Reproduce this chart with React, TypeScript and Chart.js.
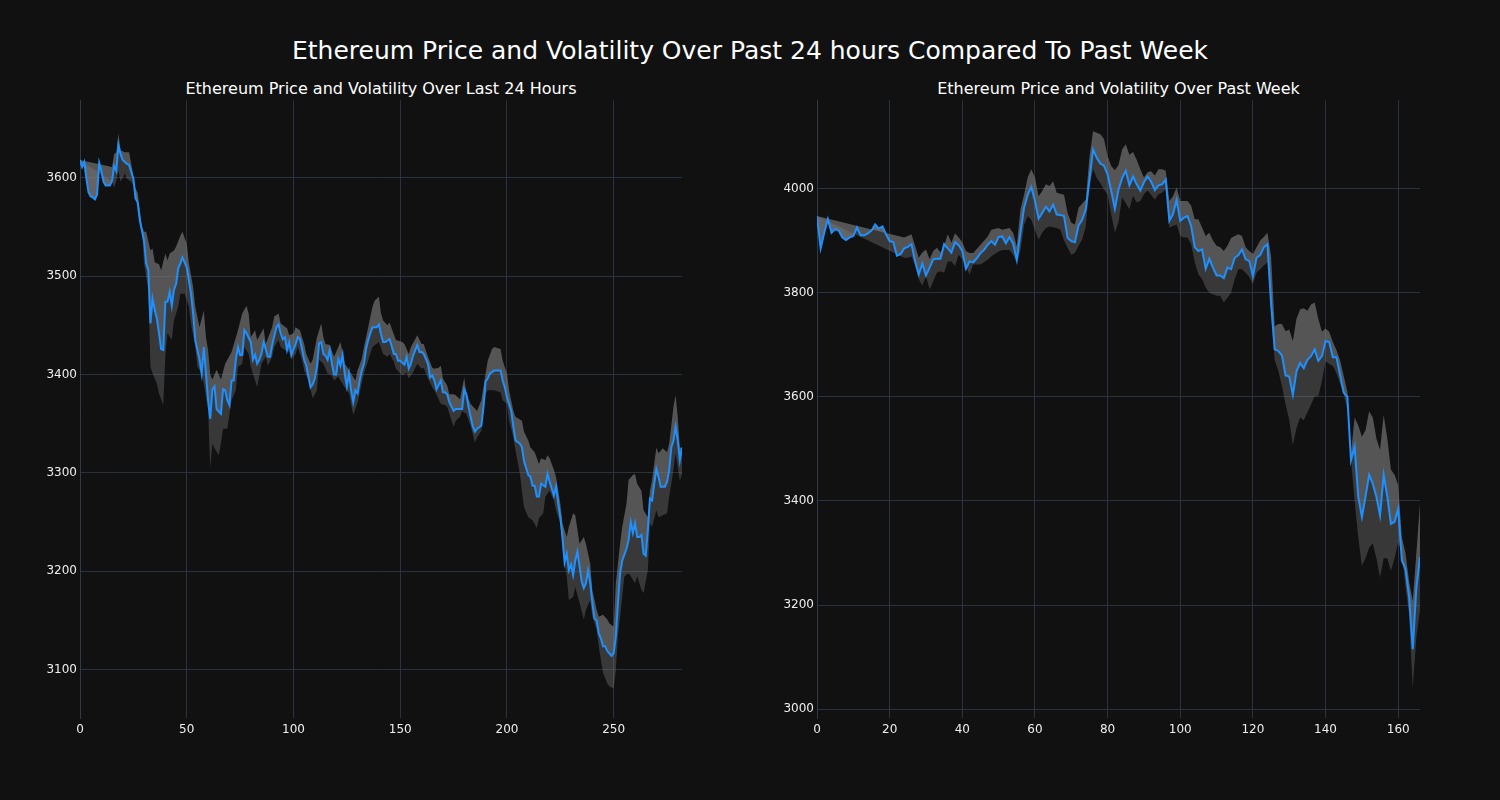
import React, { useEffect, useRef } from "react";
import Chart from "chart.js/auto";

// ---------- Left chart: last 24 hours ----------
const leftPriceX = [0,1,2,3,4,5,6,7,8,9,10,11,12,14,15,16,17,18,19,20,22,23,24,25,26,27,28,30,31,32,33,34,35,36,37,38,39,40,41,42,43,44,45,46,47,48,50,51,52,53,54,55,56,57,58,59,60,61,62,63,64,66,67,68,69,70,71,72,73,74,75,76,77,78,80,81,82,83,84,85,86,87,88,89,90,92,93,94,95,96,97,98,99,101,102,103,104,105,106,107,108,109,110,111,112,113,114,115,116,117,118,119,120,121,122,123,124,125,126,127,128,129,130,131,132,133,134,135,136,137,139,140,141,142,143,145,146,147,148,149,150,152,153,154,155,156,158,159,160,161,163,164,165,166,167,169,170,171,172,173,175,176,177,179,180,181,182,183,184,185,186,188,189,190,191,192,194,195,197,198,199,200,202,203,204,206,207,208,210,211,212,213,214,215,216,218,219,220,221,222,223,224,225,226,227,228,229,230,231,232,233,234,235,236,237,238,239,240,241,242,243,244,245,246,247,249,250,251,252,253,254,256,257,258,259,260,261,262,263,264,265,266,267,268,269,270,271,272,274,275,276,277,278,279,280,281,282];
const leftPrice = [3618,3611,3616,3599,3585,3581,3580,3578,3583,3615,3607,3596,3592,3592,3597,3612,3607,3633,3624,3618,3614,3613,3606,3599,3579,3575,3557,3536,3513,3506,3452,3477,3466,3457,3442,3426,3425,3474,3474,3484,3470,3486,3492,3508,3513,3519,3509,3496,3482,3462,3435,3425,3415,3401,3428,3401,3374,3355,3385,3388,3365,3360,3385,3384,3374,3369,3394,3394,3415,3428,3420,3420,3445,3442,3433,3415,3420,3411,3415,3421,3433,3426,3418,3418,3430,3448,3451,3442,3436,3438,3425,3433,3420,3431,3438,3436,3426,3415,3409,3398,3387,3390,3396,3408,3432,3433,3421,3419,3415,3425,3411,3400,3400,3416,3409,3420,3401,3388,3401,3384,3372,3384,3381,3394,3404,3411,3426,3435,3442,3448,3448,3451,3441,3433,3433,3436,3429,3421,3421,3414,3414,3410,3418,3406,3411,3419,3430,3423,3423,3421,3411,3397,3399,3394,3385,3394,3382,3382,3380,3372,3363,3365,3365,3365,3385,3380,3367,3357,3347,3342,3345,3348,3367,3393,3396,3401,3404,3404,3404,3394,3387,3377,3363,3347,3333,3330,3326,3312,3298,3296,3287,3287,3276,3276,3289,3286,3299,3291,3284,3277,3286,3269,3255,3235,3209,3218,3201,3207,3196,3211,3220,3205,3190,3183,3188,3201,3188,3168,3152,3150,3137,3132,3124,3124,3119,3114,3117,3134,3168,3198,3211,3223,3232,3250,3239,3249,3235,3235,3237,3218,3216,3242,3274,3272,3289,3304,3296,3286,3286,3291,3303,3326,3333,3347,3333,3313,3326];

const leftUpperX = [0,15,16,17,18,19,21,23,24,26,27,29,30,31,33,34,35,37,38,40,41,42,44,45,47,48,50,51,53,54,56,58,59,60,61,62,64,66,68,71,74,76,78,79,80,82,83,86,87,90,91,93,94,97,98,100,101,103,105,106,108,109,111,113,114,115,117,119,121,122,124,125,127,129,130,132,133,135,137,138,140,141,142,144,145,147,148,151,152,154,155,157,158,160,161,163,165,166,168,169,170,172,173,175,176,178,180,181,183,186,188,190,191,193,194,197,198,200,201,203,204,207,208,210,211,213,215,216,218,219,220,222,223,225,226,228,229,231,232,234,236,237,239,240,242,243,245,247,248,250,251,253,254,256,257,259,260,261,263,264,266,267,268,270,271,273,275,276,278,279,280,281,282];
const leftUpper = [3618,3611,3624,3626,3645,3628,3626,3626,3614,3589,3585,3550,3545,3545,3526,3528,3514,3512,3506,3523,3516,3523,3526,3530,3541,3545,3533,3513,3489,3469,3448,3465,3438,3425,3400,3395,3405,3395,3411,3423,3445,3462,3470,3462,3438,3445,3435,3447,3431,3448,3459,3462,3452,3447,3440,3442,3448,3445,3431,3421,3411,3415,3438,3452,3438,3431,3430,3418,3428,3433,3411,3408,3401,3394,3404,3416,3428,3448,3469,3475,3479,3462,3455,3450,3453,3441,3435,3433,3431,3421,3428,3436,3440,3431,3431,3418,3407,3406,3407,3409,3396,3389,3380,3380,3379,3375,3397,3380,3370,3363,3374,3401,3414,3426,3428,3426,3414,3401,3384,3363,3357,3353,3342,3333,3326,3321,3309,3315,3313,3318,3315,3303,3296,3269,3249,3235,3245,3259,3257,3228,3235,3228,3208,3181,3161,3154,3156,3151,3147,3144,3188,3228,3245,3269,3293,3298,3299,3289,3282,3262,3255,3282,3293,3326,3320,3325,3321,3330,3367,3379,3357,3326,3325];

const leftLowerX = [0,15,16,17,18,19,21,22,24,26,27,29,30,32,33,34,36,37,39,40,41,43,44,46,47,49,51,52,54,55,57,58,60,61,62,63,65,66,67,69,71,73,74,76,77,79,80,82,83,85,87,88,90,91,93,94,96,98,99,101,102,104,105,107,109,111,112,114,116,118,119,121,122,124,126,128,130,131,133,137,140,142,144,145,147,148,150,151,153,154,156,158,160,161,163,165,166,168,169,171,172,175,176,178,179,181,183,185,186,188,190,191,194,197,198,200,201,203,204,206,208,210,212,214,215,217,218,220,222,223,225,226,228,229,231,232,234,236,237,239,240,242,243,245,247,248,250,251,252,254,255,257,258,260,261,263,264,266,267,268,270,271,273,275,276,278,279,281,282];
const leftLower = [3618,3596,3590,3597,3607,3596,3604,3599,3596,3589,3580,3547,3513,3486,3408,3401,3391,3381,3369,3421,3442,3435,3455,3469,3482,3482,3469,3452,3428,3408,3401,3391,3364,3305,3330,3325,3318,3330,3345,3345,3374,3384,3408,3411,3428,3421,3408,3394,3387,3411,3418,3409,3418,3428,3435,3428,3425,3423,3415,3421,3428,3415,3404,3394,3376,3384,3415,3411,3401,3399,3394,3398,3394,3387,3381,3359,3371,3381,3401,3428,3433,3421,3418,3421,3413,3406,3401,3399,3402,3396,3402,3411,3406,3407,3396,3387,3384,3375,3370,3369,3367,3347,3353,3357,3363,3360,3348,3331,3336,3343,3380,3384,3384,3382,3374,3370,3353,3336,3323,3300,3265,3255,3252,3244,3254,3259,3276,3282,3272,3262,3249,3222,3195,3171,3174,3184,3168,3151,3161,3171,3154,3141,3124,3097,3086,3083,3081,3100,3134,3174,3195,3198,3195,3188,3195,3181,3178,3201,3249,3245,3262,3255,3257,3259,3276,3303,3320,3292,3299];

const leftXTicks = [0, 50, 100, 150, 200, 250];
const leftYTicks = [3100, 3200, 3300, 3400, 3500, 3600];

// ---------- Right chart: past week ----------
const rightPriceX = Array.from({ length: 167 }, (_, i) => i);
const rightPrice = [3947,3885,3915,3941,3915,3922,3919,3906,3901,3906,3909,3925,3910,3910,3914,3919,3931,3923,3927,3912,3899,3897,3871,3874,3885,3888,3893,3861,3835,3856,3833,3848,3864,3865,3865,3893,3885,3877,3897,3891,3880,3846,3860,3858,3866,3876,3882,3892,3899,3892,3907,3908,3895,3907,3894,3863,3915,3963,3988,4003,3976,3942,3953,3965,3956,3969,3950,3949,3947,3905,3899,3897,3929,3940,3960,4017,4075,4059,4048,4044,4027,3995,3961,3998,4020,4034,4006,4023,4008,3996,4012,4023,4013,3997,4006,4008,4017,3938,3951,3978,3938,3944,3947,3928,3887,3880,3883,3846,3865,3848,3833,3833,3828,3848,3845,3867,3872,3883,3864,3861,3832,3867,3872,3887,3893,3780,3691,3688,3679,3641,3639,3604,3649,3665,3655,3671,3678,3691,3669,3678,3707,3705,3676,3676,3642,3608,3600,3478,3504,3408,3369,3408,3450,3433,3408,3372,3450,3408,3356,3360,3385,3286,3269,3215,3115,3234,3292];

const rightUpperX = [0,24,25,26,27,28,29,30,31,32,33,34,35,36,37,38,39,40,41,42,43,45,47,48,50,51,53,54,55,56,57,58,59,60,61,62,63,64,65,66,68,69,70,71,72,74,75,76,77,78,79,80,81,82,83,84,85,86,87,88,89,90,91,92,93,94,95,96,97,98,99,100,101,102,103,104,105,106,107,108,109,110,111,112,113,114,115,116,117,118,119,120,121,122,123,124,125,126,127,128,129,130,131,132,133,134,135,136,137,138,139,140,141,142,143,144,145,146,147,148,149,150,151,152,153,154,155,156,157,158,159,160,161,162,163,164,165,166];
const rightUpper = [3947,3906,3909,3912,3890,3867,3877,3883,3864,3880,3886,3877,3890,3912,3896,3914,3906,3897,3880,3876,3876,3892,3908,3921,3924,3921,3924,3915,3889,3960,3988,4021,4037,4021,3985,3995,4008,4005,4014,3992,3988,3953,3934,3931,3963,3979,4060,4110,4107,4104,4095,4062,4043,4035,4045,4075,4085,4065,4070,4055,4037,4021,4031,4033,4025,4037,4037,4034,3976,3985,4002,3976,3976,3976,3967,3941,3941,3925,3909,3915,3900,3890,3887,3880,3890,3905,3909,3912,3909,3887,3880,3874,3887,3900,3907,3915,3870,3735,3740,3740,3726,3729,3707,3750,3768,3770,3765,3777,3781,3750,3725,3731,3725,3705,3690,3670,3640,3610,3491,3560,3545,3523,3536,3572,3560,3520,3498,3565,3520,3460,3450,3430,3330,3300,3245,3208,3300,3395];

const rightLowerX = [0,24,25,26,27,28,29,30,31,32,33,34,35,36,37,38,39,40,41,42,43,45,47,48,50,51,53,54,55,56,57,58,59,60,61,62,63,64,66,67,68,69,70,71,72,73,74,75,76,77,78,79,80,81,82,83,84,86,87,88,89,90,91,93,94,95,96,97,99,100,101,102,103,104,105,106,107,108,110,111,112,113,114,115,116,117,118,119,120,121,122,123,124,125,126,127,128,129,130,131,132,133,134,135,136,137,138,139,140,141,142,143,144,145,146,147,148,149,150,151,152,153,154,155,156,157,158,159,160,161,162,163,164,165,166];
const rightLower = [3947,3867,3867,3870,3851,3826,3813,3832,3806,3822,3838,3841,3838,3860,3860,3851,3873,3864,3851,3835,3854,3854,3863,3870,3879,3882,3882,3873,3857,3880,3930,3947,3940,3920,3902,3915,3924,3927,3924,3921,3900,3886,3873,3876,3890,3902,3927,4004,4037,4020,4010,3998,3988,3950,3915,3935,3983,3960,3986,3973,3976,3989,3996,3979,3989,3992,3999,3925,3931,3909,3906,3906,3893,3858,3835,3826,3810,3800,3794,3794,3781,3790,3800,3826,3845,3845,3838,3830,3816,3838,3845,3852,3858,3760,3670,3650,3620,3585,3556,3507,3540,3560,3555,3570,3585,3601,3601,3630,3668,3663,3659,3645,3625,3605,3575,3480,3400,3330,3276,3290,3310,3318,3290,3253,3290,3290,3266,3290,3320,3300,3234,3183,3041,3138,3189];

const rightXTicks = [0, 20, 40, 60, 80, 100, 120, 140, 160];
const rightYTicks = [3000, 3200, 3400, 3600, 3800, 4000];

const BG = "#111111";
const GRID = "#29323e";
const SPINE = "#2f3a48";
const TEXT = "#eeeeee";
const LINE = "#1e90ff";
const FONT = "'DejaVu Sans', Verdana, sans-serif";

function zip(xs: number[], ys: number[]) {
  return xs.map((x, i) => ({ x, y: ys[i] }));
}

type Spec = {
  priceX: number[]; price: number[];
  upperX: number[]; upper: number[];
  lowerX: number[]; lower: number[];
  xMax: number; yMin: number; yMax: number;
  xTicks: number[]; yTicks: number[];
  yWidth: number; padRight: number;
};

function makeConfig(s: Spec): any {
  return {
    type: "line",
    data: {
      datasets: [
        {
          data: zip(s.priceX, s.price),
          borderColor: LINE,
          borderWidth: 2,
          pointRadius: 0,
          fill: false,
          tension: 0,
        },
        {
          data: zip(s.upperX, s.upper),
          borderColor: "transparent",
          borderWidth: 0,
          pointRadius: 0,
          tension: 0,
          fill: { target: 0 },
          backgroundColor: "rgba(128,128,128,0.62)",
        },
        {
          data: zip(s.lowerX, s.lower),
          borderColor: "transparent",
          borderWidth: 0,
          pointRadius: 0,
          tension: 0,
          fill: { target: 0 },
          backgroundColor: "rgba(128,128,128,0.36)",
        },
      ],
    },
    options: {
      animation: false,
      responsive: false,
      maintainAspectRatio: false,
      events: [],
      layout: { padding: { top: 100, right: s.padRight, left: 0, bottom: 0 } },
      plugins: { legend: { display: false }, tooltip: { enabled: false }, title: { display: false } },
      scales: {
        x: {
          type: "linear",
          min: 0,
          max: s.xMax,
          afterFit: (sc: any) => { sc.height = 82; },
          afterBuildTicks: (sc: any) => { sc.ticks = s.xTicks.map((v) => ({ value: v })); },
          grid: { color: GRID, lineWidth: 1, drawTicks: false },
          border: { display: false },
          ticks: {
            color: TEXT, font: { family: FONT, size: 12 }, padding: 5, maxRotation: 0, autoSkip: false,
            callback: (v: any) => String(v),
          },
        },
        y: {
          type: "linear",
          min: s.yMin,
          max: s.yMax,
          afterFit: (sc: any) => { sc.width = s.yWidth; },
          afterBuildTicks: (sc: any) => { sc.ticks = s.yTicks.map((v) => ({ value: v })); },
          grid: { color: GRID, lineWidth: 1, drawTicks: false },
          border: { display: true, color: SPINE, width: 1 },
          ticks: {
            color: TEXT, font: { family: FONT, size: 12 }, padding: 3, autoSkip: false,
            callback: (v: any) => String(v),
          },
        },
      },
    },
  };
}

function ChartBox(props: { spec: Spec; left: number; width: number }) {
  const ref = useRef<HTMLCanvasElement | null>(null);
  useEffect(() => {
    if (!ref.current) return;
    const chart = new Chart(ref.current, makeConfig(props.spec));
    return () => chart.destroy();
  }, []);
  return (
    <canvas
      ref={ref}
      width={props.width}
      height={800}
      style={{ position: "absolute", left: props.left, top: 0, width: props.width, height: 800 }}
    />
  );
}

export default function App() {
  const leftSpec: Spec = {
    priceX: leftPriceX, price: leftPrice,
    upperX: leftUpperX, upper: leftUpper,
    lowerX: leftLowerX, lower: leftLower,
    xMax: 282, yMin: 3051, yMax: 3679,
    xTicks: leftXTicks, yTicks: leftYTicks,
    yWidth: 80, padRight: 38,
  };
  const rightSpec: Spec = {
    priceX: rightPriceX, price: rightPrice,
    upperX: rightUpperX, upper: rightUpper,
    lowerX: rightLowerX, lower: rightLower,
    xMax: 166, yMin: 2983, yMax: 4170,
    xTicks: rightXTicks, yTicks: rightYTicks,
    yWidth: 77, padRight: 40,
  };
  const textStyle: React.CSSProperties = {
    position: "absolute",
    color: "#ffffff",
    fontFamily: FONT,
    whiteSpace: "nowrap",
    transform: "translate(-50%, -50%)",
    lineHeight: 1,
  };
  return (
    <div style={{ position: "fixed", left: 0, top: 0, width: 1500, height: 800, background: BG, overflow: "hidden" }}>
      <div style={{ ...textStyle, left: 750, top: 50, fontSize: 25 }}>
        Ethereum Price and Volatility Over Past 24 hours Compared To Past Week
      </div>
      <div style={{ ...textStyle, left: 381, top: 89, fontSize: 16 }}>
        Ethereum Price and Volatility Over Last 24 Hours
      </div>
      <div style={{ ...textStyle, left: 1118.5, top: 89, fontSize: 16 }}>
        Ethereum Price and Volatility Over Past Week
      </div>
      <ChartBox spec={leftSpec} left={0} width={720} />
      <ChartBox spec={rightSpec} left={740} width={720} />
    </div>
  );
}
